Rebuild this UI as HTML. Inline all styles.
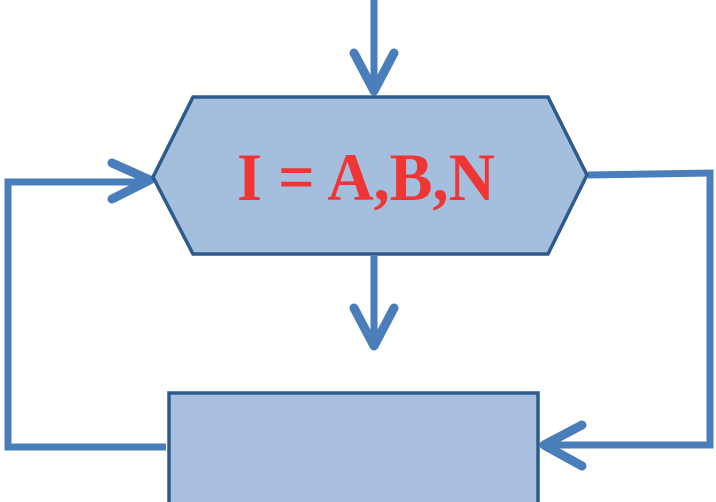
<!DOCTYPE html>
<html><head><style>html,body{margin:0;padding:0;background:#fff}svg{display:block}</style></head>
<body>
<svg width="716" height="502" viewBox="0 0 716 502" xmlns="http://www.w3.org/2000/svg">
<g fill="none" stroke="#4a7ebb" stroke-width="7" stroke-linecap="round" stroke-linejoin="round">
<line x1="374" y1="0" x2="374" y2="90" stroke-linecap="butt"/>
<line x1="374" y1="256" x2="374" y2="344" stroke-linecap="butt"/>
<polyline points="166,447 8,447 8,182 148,182" stroke-linecap="butt" stroke-linejoin="miter"/>
<polyline points="588,175 710,173 710,445 546,445" stroke-linecap="butt" stroke-linejoin="miter"/>
</g>
<g fill="none" stroke="#4a7ebb" stroke-width="9" stroke-linecap="round" stroke-linejoin="round">
<polyline points="354,53 374,91 394,53"/>
<polyline points="354,308 374,346 394,308"/>
<polyline points="112,163 150,180 112,199"/>
<polyline points="582,425 544,445 582,466"/>
</g>
<polygon points="193,97 548,97 587,175 548,254 193,254 153,177" fill="#a4bedd" stroke="#2f5a8c" stroke-width="3.5"/>
<rect x="169" y="393" width="369" height="115" fill="#a9bfdf" stroke="#2f5a8c" stroke-width="3.5"/>
<text x="237" y="200" font-family="Liberation Serif, serif" font-weight="bold" font-size="68" fill="#f03535" textLength="258" lengthAdjust="spacingAndGlyphs">I = A,B,N</text>
</svg>
</body></html>
